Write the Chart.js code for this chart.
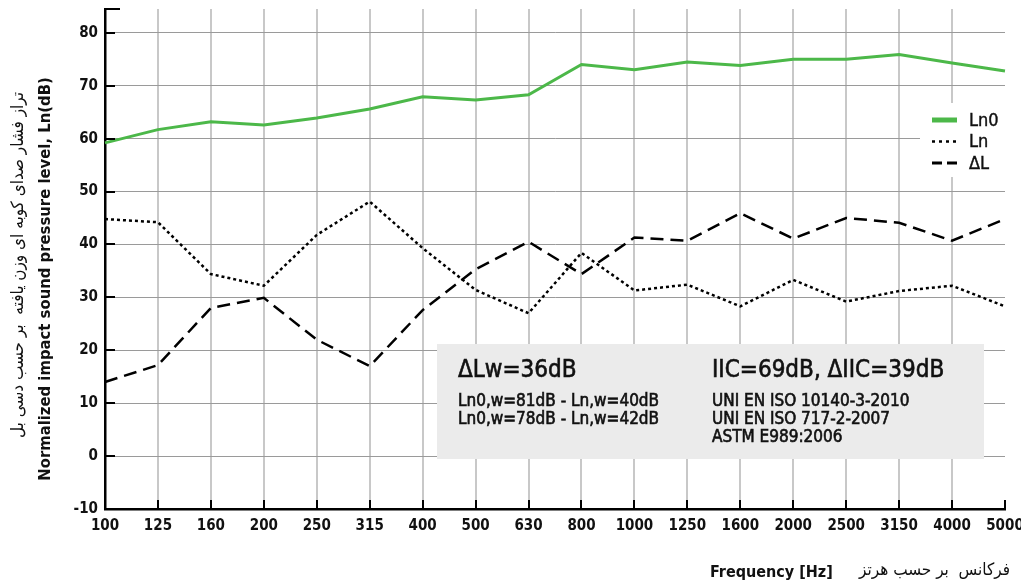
<!DOCTYPE html>
<html>
<head>
<meta charset="utf-8">
<script src="https://cdn.jsdelivr.net/npm/chart.js@4.4.1/dist/chart.umd.min.js"></script>
<style>
  html, body { margin: 0; padding: 0; background: #fff; }
  #wrap { width: 1021px; height: 587px; position: relative; }
</style>
</head>
<body>
<div id="wrap"><canvas id="chart"></canvas></div>
<script>
// ---- data ----
const freqLabels = ["100", "125", "160", "200", "250", "315", "400", "500", "630",
  "800", "1000", "1250", "1600", "2000", "2500", "3150", "4000", "5000"];

const ln0Values = [59.2, 61.7, 63.2, 62.6, 63.9, 65.6, 67.9, 67.3, 68.3,
  74.0, 73.0, 74.5, 73.8, 75.0, 75.0, 75.9, 74.3, 72.8];

const lnValues = [44.8, 44.2, 34.4, 32.2, 41.8, 48.1, 39.3, 31.4, 27.0,
  38.4, 31.3, 32.4, 28.3, 33.3, 29.2, 31.2, 32.2, 28.3];

const deltaLValues = [14.0, 17.2, 28.0, 29.9, 22.0, 17.0, 27.6, 35.3, 40.5,
  34.4, 41.3, 40.7, 45.9, 41.1, 45.0, 44.1, 40.7, 44.8];

const yMin = -10;
const yMax = 84.5;
const yStep = 10;

const seriesNames = ["Ln0", "Ln", "\u0394L"];

const yTitleEn = "Normalized impact sound pressure level, Ln(dB)";
const yTitleFa = "تراز فشار صدای کوبه ای وزن یافته  بر حسب دسی بل";
const xTitleEn = "Frequency [Hz]";
const xTitleFa = "فرکانس  بر حسب هرتز";

const boxLeftLines = ["\u0394Lw=36dB", "Ln0,w=81dB - Ln,w=40dB", "Ln0,w=78dB - Ln,w=42dB"];
const boxRightLines = ["IIC=69dB, \u0394IIC=39dB", "UNI EN ISO 10140-3-2010", "UNI EN ISO 717-2-2007", "ASTM E989:2006"];

// ---- styling ----
const NARROW = '"DejaVu Sans Condensed", "Liberation Sans Narrow", sans-serif';
const FARSI = '"DejaVu Sans Condensed", "DejaVu Sans", sans-serif';
const GREEN = "#4cb849";
const INK = "#111";

// medium weight: regular glyphs with a hairline outline
function mediumText(ctx, text, x, y) {
  ctx.fillText(text, x, y);
  ctx.strokeText(text, x, y);
}

// grey results box, drawn over the grid but under the lines
const resultsBox = {
  id: "resultsBox",
  beforeDatasetsDraw(chart) {
    const ctx = chart.ctx;
    ctx.save();
    ctx.fillStyle = "#ebebeb";
    ctx.fillRect(437, 344, 547, 115);

    ctx.fillStyle = INK;
    ctx.strokeStyle = INK;
    ctx.lineWidth = 0.6;
    ctx.textBaseline = "middle";
    ctx.textAlign = "left";

    ctx.font = "24px " + NARROW;
    mediumText(ctx, boxLeftLines[0], 458, 371);
    mediumText(ctx, boxRightLines[0], 712, 371);

    ctx.font = "17px " + NARROW;
    boxLeftLines.slice(1).forEach((t, i) => mediumText(ctx, t, 458, 402 + i * 18));
    boxRightLines.slice(1).forEach((t, i) => mediumText(ctx, t, 712, 402 + i * 18));
    ctx.restore();
  },
};

// legend with a white patch over the grid
const inlineLegend = {
  id: "inlineLegend",
  beforeDatasetsDraw(chart) {
    const ctx = chart.ctx;
    ctx.save();
    ctx.fillStyle = "#fff";
    ctx.fillRect(920, 103, 90, 74);

    const samples = [
      { width: 5, dash: [] },
      { width: 2.5, dash: [3, 4] },
      { width: 3, dash: [10, 5] },
    ];
    chart.data.datasets.forEach((ds, i) => {
      const y = 120 + i * 21.5;
      ctx.strokeStyle = ds.borderColor;
      ctx.lineWidth = samples[i].width;
      ctx.setLineDash(samples[i].dash);
      ctx.beginPath();
      ctx.moveTo(932, y);
      ctx.lineTo(957, y);
      ctx.stroke();

      ctx.setLineDash([]);
      ctx.fillStyle = INK;
      ctx.strokeStyle = INK;
      ctx.lineWidth = 0.4;
      ctx.font = "18px " + NARROW;
      ctx.textBaseline = "middle";
      ctx.textAlign = "left";
      mediumText(ctx, ds.label, 969, y + 1);
    });
    ctx.restore();
  },
};

// little black ticks inside the axes, axis cap and the titles
const axisDecor = {
  id: "axisDecor",
  afterDraw(chart) {
    const ctx = chart.ctx;
    const area = chart.chartArea;
    const xs = chart.scales.x;
    const ys = chart.scales.y;
    ctx.save();
    ctx.strokeStyle = "#000";
    ctx.lineWidth = 2;

    ys.ticks.forEach((t) => {
      if (t.value <= yMin) return;
      const y = Math.round(ys.getPixelForValue(t.value));
      ctx.beginPath();
      ctx.moveTo(area.left, y);
      ctx.lineTo(area.left + 10, y);
      ctx.stroke();
    });
    ctx.beginPath();
    ctx.moveTo(area.left, area.top);
    ctx.lineTo(area.left + 15, area.top);
    ctx.stroke();

    freqLabels.forEach((_, i) => {
      if (i === 0) return;
      const x = Math.round(xs.getPixelForValue(i));
      ctx.beginPath();
      ctx.moveTo(x, area.bottom);
      ctx.lineTo(x, area.bottom - 9);
      ctx.stroke();
    });

    // y title, two rotated lines
    ctx.fillStyle = INK;
    ctx.textAlign = "center";
    ctx.textBaseline = "middle";
    ctx.save();
    ctx.translate(46, 279);
    ctx.rotate(-Math.PI / 2);
    ctx.font = "bold 16.5px " + NARROW;
    ctx.fillText(yTitleEn, 0, 0);
    ctx.restore();
    ctx.save();
    ctx.translate(19, 265);
    ctx.rotate(-Math.PI / 2);
    ctx.font = "17px " + FARSI;
    ctx.fillText(yTitleFa, 0, 0);
    ctx.restore();

    // x title
    ctx.textAlign = "left";
    ctx.font = "bold 16px " + NARROW;
    ctx.fillText(xTitleEn, 710, 573);
    ctx.textAlign = "right";
    ctx.font = "17px " + FARSI;
    ctx.fillText(xTitleFa, 1010, 571);
    ctx.restore();
  },
};

new Chart(document.getElementById("chart"), {
  type: "line",
  data: {
    labels: freqLabels,
    datasets: [
      { label: seriesNames[0], data: ln0Values, borderColor: GREEN, borderWidth: 3 },
      { label: seriesNames[1], data: lnValues, borderColor: "#000", borderWidth: 2.5, borderDash: [3, 3] },
      { label: seriesNames[2], data: deltaLValues, borderColor: "#000", borderWidth: 2.5, borderDash: [13, 7] },
    ],
  },
  options: {
    responsive: true,
    maintainAspectRatio: false,
    animation: false,
    layout: { padding: { top: 9, right: 16, left: 0, bottom: 0 } },
    elements: {
      point: { radius: 0 },
      line: { tension: 0, fill: false },
    },
    plugins: {
      legend: { display: false },
      tooltip: { enabled: false },
    },
    scales: {
      x: {
        offset: false,
        afterFit: (scale) => {
          scale.height = 78;
          scale.paddingLeft = 0;
          scale.paddingRight = 0;
        },
        grid: {
          color: (c) => (c.index === freqLabels.length - 1 ? "rgba(0,0,0,0)" : "#c8c8c8"),
          lineWidth: 2,
          drawTicks: false,
        },
        border: { color: "#000", width: 2.5 },
        ticks: {
          color: INK,
          padding: 8,
          maxRotation: 0,
          autoSkip: false,
          font: { family: NARROW, size: 15, weight: "bold" },
        },
      },
      y: {
        min: yMin,
        max: yMax,
        afterFit: (scale) => {
          scale.width = 105;
          scale.paddingTop = 0;
          scale.paddingBottom = 0;
        },
        afterBuildTicks: (scale) => {
          scale.ticks = scale.ticks.filter((t) => t.value % yStep === 0);
        },
        grid: { color: "#9a9a9a", lineWidth: 1, drawTicks: false },
        border: { color: "#000", width: 2.5 },
        ticks: {
          stepSize: yStep,
          color: INK,
          padding: 7,
          font: { family: NARROW, size: 15, weight: "bold" },
        },
      },
    },
  },
  plugins: [resultsBox, inlineLegend, axisDecor],
});
</script>
</body>
</html>
